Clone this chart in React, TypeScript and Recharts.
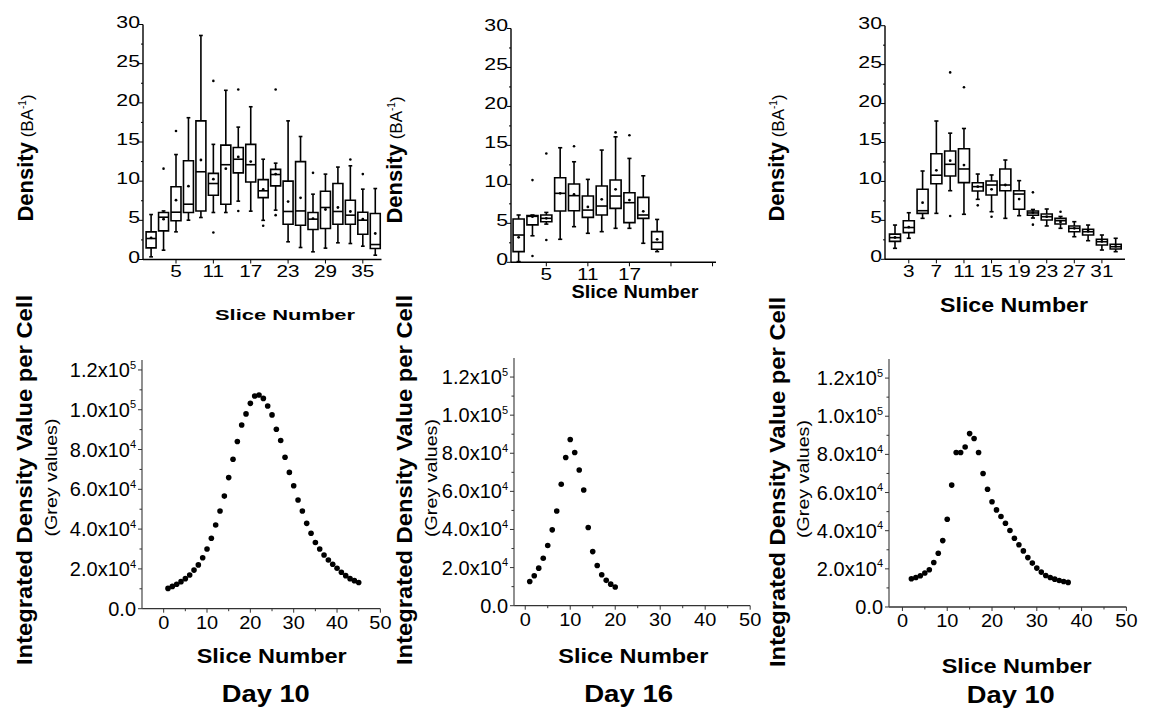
import React from 'react';
import { ScatterChart, Scatter, XAxis, YAxis, ReferenceArea, ReferenceLine } from 'recharts';

const FONT = '"Liberation Sans", Arial, Helvetica, sans-serif';

// ---------------- Top-left box plot (Day 10) ----------------
const TL_SLICE = [1, 3, 5, 7, 9, 11, 13, 15, 17, 19, 21, 23, 25, 27, 29, 31, 33, 35, 37];
const TL_MIN = [0.34, 1.19, 3.53, 5.02, 5.36, 6.0, 6.0, 7.45, 6.17, 5.0, 6.3, 2.26, 1.53, 0.98, 1.45, 2.13, 2.04, 1.7, 0.55];
const TL_Q1 = [1.49, 3.66, 4.94, 6.0, 6.2, 8.2, 7.06, 11.06, 9.9, 7.9, 9.4, 4.5, 4.38, 3.83, 3.96, 4.5, 4.5, 3.23, 1.4];
const TL_MED = [2.68, 5.4, 6.04, 7.06, 11.2, 9.7, 12.1, 12.8, 12.1, 8.77, 10.85, 6.13, 6.2, 5.15, 6.64, 6.13, 5.66, 5.02, 1.91];
const TL_Q3 = [3.53, 6.0, 9.28, 12.6, 17.7, 11.0, 14.6, 14.3, 14.7, 10.2, 11.5, 10.0, 12.5, 6.0, 8.72, 9.7, 7.57, 6.04, 5.87];
const TL_MAX = [5.74, 6.2, 13.4, 18.1, 28.6, 14.7, 21.6, 16.9, 19.5, 12.8, 12.3, 17.7, 15.7, 8.34, 10.9, 11.8, 11.96, 8.98, 9.06];
const TL_MEAN = [2.77, 5.15, 7.57, 9.36, 12.7, 10.26, 11.6, 13.1, 12.5, 8.94, 10.9, 7.4, 7.87, 5.23, 6.38, 6.64, 6.13, 5.15, 3.32];
const TL_OUT_X = [3, 5, 11, 11, 15, 15, 19, 21, 21, 27, 33, 35];
const TL_OUT_Y = [11.6, 16.4, 22.8, 3.45, 21.7, 6.2, 4.3, 21.7, 5.66, 11.06, 12.77, 10.9];
const TL_X_TICKS = [5, 11, 17, 23, 29, 35];
const TL_X_LABELS = ['5', '11', '17', '23', '29', '35'];

// ---------------- Top-middle box plot (Day 16) ----------------
const TM_SLICE = [1, 3, 5, 7, 9, 11, 13, 15, 17, 19, 21];
const TM_MIN = [0.09, 3.4, 4.9, 2.95, 4.57, 3.72, 3.93, 4.36, 4.36, 2.44, 1.37];
const TM_Q1 = [1.37, 4.8, 5.2, 6.58, 6.62, 5.77, 6.07, 6.92, 5.09, 5.64, 1.67];
const TM_MED = [3.5, 5.9, 5.64, 8.85, 8.55, 6.7, 7.22, 8.5, 7.65, 6.07, 2.56];
const TM_Q3 = [5.56, 6.0, 6.07, 10.85, 10.04, 8.5, 9.79, 10.56, 8.93, 8.33, 3.93];
const TM_MAX = [6.07, 6.07, 6.4, 14.7, 12.9, 10.64, 14.4, 16.1, 13.33, 11.1, 5.5];
const TM_MEAN = [3.2, 5.85, 5.64, 8.85, 8.7, 7.1, 8.08, 9.36, 7.99, 6.54, 2.95];
const TM_OUT_X = [3, 3, 5, 5, 9, 15, 17];
const TM_OUT_Y = [10.55, 0.8, 13.97, 2.86, 14.9, 16.67, 16.3];
const TM_X_TICKS = [5, 11, 17, 23, 29];
const TM_X_LABELS = ['5', '11', '17', '', ''];

// ---------------- Top-right box plot (Day 10) ----------------
const TR_SLICE = [1, 3, 5, 7, 9, 11, 13, 15, 17, 19, 21, 23, 25, 27, 29, 31, 33];
const TR_MIN = [1.41, 2.7, 5.26, 5.9, 8.81, 5.78, 7.7, 6.11, 5.26, 5.6, 5.3, 4.28, 3.98, 2.9, 2.39, 1.19, 0.98];
const TR_Q1 = [2.3, 3.42, 5.9, 9.7, 10.7, 9.85, 8.77, 8.26, 8.81, 6.42, 5.65, 5.05, 4.53, 3.54, 3.12, 1.84, 1.32];
const TR_MED = [2.78, 4.08, 6.24, 10.8, 12.2, 11.6, 9.33, 9.54, 9.54, 8.38, 5.95, 5.47, 4.96, 3.98, 3.54, 2.26, 1.62];
const TR_Q3 = [3.23, 4.96, 8.99, 13.55, 13.9, 14.2, 9.84, 10.05, 11.6, 8.81, 6.2, 5.82, 5.26, 4.28, 3.85, 2.57, 1.93];
const TR_MAX = [4.4, 5.98, 11.34, 17.76, 16.2, 16.8, 10.95, 10.83, 12.75, 10.1, 6.4, 6.46, 5.5, 4.83, 4.4, 3.12, 2.7];
const TR_MEAN = [2.8, 4.13, 7.27, 11.42, 12.66, 12.1, 9.33, 8.99, 9.54, 7.74, 6.0, 5.47, 4.8, 3.98, 3.6, 2.3, 1.65];
const TR_OUT_X = [9, 9, 11, 13, 15, 21, 21, 25];
const TR_OUT_Y = [24.0, 5.56, 22.1, 6.93, 5.47, 8.6, 4.45, 6.11];
const TR_X_TICKS = [3, 7, 11, 15, 19, 23, 27, 31];
const TR_X_LABELS = ['3', '7', '11', '15', '19', '23', '27', '31'];

const TOP_Y_MAJOR = [0, 5, 10, 15, 20, 25, 30];
const TOP_Y_LABELS = ['0', '5', '10', '15', '20', '25', '30'];
const TOP_Y_MINOR = [2.5, 7.5, 12.5, 17.5, 22.5, 27.5];

// ---------------- Bottom scatter plots ----------------
const BL_X = [1, 2, 3, 4, 5, 6, 7, 8, 9, 10, 11, 12, 13, 14, 15, 16, 17, 18, 19, 20, 21, 22, 23, 24, 25, 26, 27, 28, 29, 30, 31, 32, 33, 34, 35, 36, 37, 38, 39, 40, 41, 42, 43, 44, 45];
const BL_Y = [10200, 11200, 12300, 13600, 15100, 16900, 19400, 22000, 25600, 30000, 35400, 42100, 49100, 56600, 65900, 75100, 84000, 92300, 97900, 103200, 106900, 107400, 105700, 101900, 97400, 90200, 84500, 76100, 68500, 61800, 54600, 49100, 42900, 37900, 33300, 30000, 27000, 24500, 22300, 20300, 18300, 16600, 15100, 14100, 13200];

const BM_X = [1, 2, 3, 4, 5, 6, 7, 8, 9, 10, 11, 12, 13, 14, 15, 16, 17, 18, 19, 20];
const BM_Y = [12700, 15700, 19700, 24900, 31600, 39800, 49700, 63700, 77800, 87200, 80400, 71200, 60700, 41000, 28400, 21100, 16200, 13300, 11300, 9800];

const BR_X = [2, 3, 4, 5, 6, 7, 8, 9, 10, 11, 12, 13, 14, 15, 16, 17, 18, 19, 20, 21, 22, 23, 24, 25, 26, 27, 28, 29, 30, 31, 32, 33, 34, 35, 36, 37];
const BR_Y = [14800, 15500, 16400, 17800, 19500, 23300, 28200, 34800, 46000, 63900, 81000, 81000, 83900, 90900, 88300, 81000, 70000, 61700, 55200, 50900, 47400, 43900, 40100, 36000, 32600, 29400, 25900, 23000, 20400, 18300, 16500, 15500, 14600, 13900, 13400, 12900];

const BOT_Y_MAJOR = [0, 20000, 40000, 60000, 80000, 100000, 120000];
const BOT_Y_LABELS = ['0.0', '2.0x10', '4.0x10', '6.0x10', '8.0x10', '1.0x10', '1.2x10'];
const BOT_Y_EXP = ['', '4', '4', '4', '4', '5', '5'];
const BOT_Y_MINOR = [10000, 30000, 50000, 70000, 90000, 110000];
const BOT_X_MAJOR = [0, 10, 20, 30, 40, 50];
const BOT_X_LABELS = ['0', '10', '20', '30', '40', '50'];
const BOT_X_MINOR = [5, 15, 25, 35, 45];

const BOX_HALF = 0.8;
const CAP_HALF = 0.3;

type TickStyle = {
  majorLen: number;
  minorLen: number;
  fontSize: number;
  stretch: number;
  gap: number;
  dy: number;
  color: string;
  weight?: string | number;
};

function findIdx(arr: number[], v: number) {
  return arr.findIndex((m) => Math.abs(m - v) < 1e-6);
}

function makeYTick(major: number[], labels: string[], exps: string[] | null, s: TickStyle) {
  return (props: any) => {
    const { x, y, payload } = props;
    const i = findIdx(major, payload.value);
    const isMajor = i >= 0;
    const len = isMajor ? s.majorLen : s.minorLen;
    return (
      <g>
        <line x1={x} x2={x - len} y1={y} y2={y} stroke={s.color} strokeWidth={1} />
        {isMajor && labels[i] !== '' ? (
          <text
            transform={`translate(${x - s.gap},${y + s.dy}) scale(${s.stretch},1)`}
            textAnchor="end"
            fontSize={s.fontSize}
            fontFamily={FONT}
            fontWeight={s.weight || 'normal'}
            fill="#000"
          >
            {labels[i]}
            {exps && exps[i] ? (
              <tspan dy={-s.fontSize * 0.42} fontSize={s.fontSize * 0.55}>
                {exps[i]}
              </tspan>
            ) : null}
          </text>
        ) : null}
      </g>
    );
  };
}

function makeXTick(major: number[], labels: string[], s: TickStyle) {
  return (props: any) => {
    const { x, y, payload } = props;
    const i = findIdx(major, payload.value);
    const isMajor = i >= 0;
    const len = isMajor ? s.majorLen : s.minorLen;
    return (
      <g>
        <line x1={x} x2={x} y1={y} y2={y + len} stroke={s.color} strokeWidth={1} />
        {isMajor && labels[i] !== '' ? (
          <text
            transform={`translate(${x},${y + s.dy}) scale(${s.stretch},1)`}
            textAnchor="middle"
            fontSize={s.fontSize}
            fontFamily={FONT}
            fontWeight={s.weight || 'normal'}
            fill="#000"
          >
            {labels[i]}
          </text>
        ) : null}
      </g>
    );
  };
}

type Rect = { l: number; t: number; r: number; b: number };

function dotShape(r: number) {
  return (props: any) => <circle cx={props.cx} cy={props.cy} r={r} fill="#000" />;
}

function BoxPanel(p: {
  plot: Rect;
  xDomain: [number, number];
  slices: number[];
  lo: number[];
  q1: number[];
  med: number[];
  q3: number[];
  hi: number[];
  mean: number[];
  outX: number[];
  outY: number[];
  xTicks: number[];
  xLabels: string[];
}) {
  const chartLeft = p.plot.l - 70;
  const chartTop = 0;
  const chartW = p.plot.r - chartLeft + 4;
  const chartH = p.plot.b + 35;
  const yTicks = [...TOP_Y_MAJOR, ...TOP_Y_MINOR].sort((a, b) => a - b);
  const yTickStyle: TickStyle = { majorLen: 4, minorLen: 2, fontSize: 17, stretch: 1.25, gap: 3, dy: 3, color: '#000' };
  const xTickStyle: TickStyle = { majorLen: 4, minorLen: 2, fontSize: 17, stretch: 1.22, gap: 0, dy: 17.5, color: '#000' };
  const meanData = p.slices.map((s, i) => ({ x: s, y: p.mean[i] }));
  const outData = p.outX.map((s, i) => ({ x: s, y: p.outY[i] }));
  const els: React.ReactElement[] = [];
  const sw = 1.6;
  p.slices.forEach((s, i) => {
    els.push(
      <ReferenceArea key={`a${i}`} x1={s - BOX_HALF} x2={s + BOX_HALF} y1={p.q1[i]} y2={p.q3[i]} stroke="#000" strokeWidth={sw} fill="none" fillOpacity={0} ifOverflow="visible" />
    );
    els.push(
      <ReferenceLine key={`m${i}`} segment={[{ x: s - BOX_HALF, y: p.med[i] }, { x: s + BOX_HALF, y: p.med[i] }]} stroke="#000" strokeWidth={sw} ifOverflow="visible" />
    );
    els.push(
      <ReferenceLine key={`u${i}`} segment={[{ x: s, y: p.q3[i] }, { x: s, y: p.hi[i] }]} stroke="#000" strokeWidth={sw} ifOverflow="visible" />
    );
    els.push(
      <ReferenceLine key={`d${i}`} segment={[{ x: s, y: p.lo[i] }, { x: s, y: p.q1[i] }]} stroke="#000" strokeWidth={sw} ifOverflow="visible" />
    );
    els.push(
      <ReferenceLine key={`cu${i}`} segment={[{ x: s - CAP_HALF, y: p.hi[i] }, { x: s + CAP_HALF, y: p.hi[i] }]} stroke="#000" strokeWidth={sw} ifOverflow="visible" />
    );
    els.push(
      <ReferenceLine key={`cd${i}`} segment={[{ x: s - CAP_HALF, y: p.lo[i] }, { x: s + CAP_HALF, y: p.lo[i] }]} stroke="#000" strokeWidth={sw} ifOverflow="visible" />
    );
  });
  return (
    <div style={{ position: 'absolute', left: chartLeft, top: chartTop }}>
      <ScatterChart width={chartW} height={chartH} margin={{ top: p.plot.t - chartTop, right: chartW - (p.plot.r - chartLeft), bottom: 0, left: 0 }}>
        <XAxis
          type="number"
          dataKey="x"
          domain={p.xDomain}
          allowDataOverflow
          ticks={p.xTicks}
          interval={0}
          height={chartH - p.plot.b}
          tickSize={0}
          tickMargin={0}
          tickLine={false}
          axisLine={{ stroke: '#000', strokeWidth: 1.4 }}
          tick={makeXTick(p.xTicks, p.xLabels, xTickStyle)}
        />
        <YAxis
          type="number"
          dataKey="y"
          domain={[0, 30]}
          allowDataOverflow
          ticks={yTicks}
          interval={0}
          width={p.plot.l - chartLeft}
          tickSize={0}
          tickMargin={0}
          tickLine={false}
          axisLine={{ stroke: '#000', strokeWidth: 1.4 }}
          tick={makeYTick(TOP_Y_MAJOR, TOP_Y_LABELS, null, yTickStyle)}
        />
        <XAxis xAxisId="top" orientation="top" type="number" domain={p.xDomain} allowDataOverflow height={0} tick={false} tickLine={false} axisLine={{ stroke: '#8a8a8a', strokeWidth: 1.2 }} />
        <YAxis yAxisId="right" orientation="right" type="number" domain={[0, 30]} allowDataOverflow width={0} tick={false} tickLine={false} axisLine={{ stroke: '#8a8a8a', strokeWidth: 1.2 }} />
        {els}
        <Scatter data={meanData} isAnimationActive={false} shape={dotShape(1.4)} />
        <Scatter data={outData} isAnimationActive={false} shape={dotShape(1.3)} />
      </ScatterChart>
    </div>
  );
}

function DotPanel(p: { plot: Rect; xDomain: [number, number]; yMax: number; xs: number[]; ys: number[] }) {
  const chartLeft = p.plot.l - 150;
  const chartTop = p.plot.t - 20;
  const chartW = p.plot.r - chartLeft + 20;
  const chartH = p.plot.b - chartTop + 30;
  const data = p.xs.map((x, i) => ({ x, y: p.ys[i] }));
  const yTicks = [...BOT_Y_MAJOR, ...BOT_Y_MINOR].sort((a, b) => a - b);
  const xTicks = [...BOT_X_MAJOR, ...BOT_X_MINOR].sort((a, b) => a - b);
  const yStyle: TickStyle = { majorLen: 4, minorLen: 2.5, fontSize: 20, stretch: 1, gap: 6, dy: 7, color: '#333' };
  const xStyle: TickStyle = { majorLen: 4, minorLen: 2.5, fontSize: 19, stretch: 1.05, gap: 0, dy: 20, color: '#333' };
  return (
    <div style={{ position: 'absolute', left: chartLeft, top: chartTop }}>
      <ScatterChart width={chartW} height={chartH} margin={{ top: p.plot.t - chartTop, right: chartW - (p.plot.r - chartLeft), bottom: 0, left: 0 }}>
        <XAxis
          type="number"
          dataKey="x"
          domain={p.xDomain}
          allowDataOverflow
          ticks={xTicks}
          interval={0}
          height={chartH - (p.plot.b - chartTop)}
          tickSize={0}
          tickMargin={0}
          tickLine={false}
          axisLine={{ stroke: '#333', strokeWidth: 1.3 }}
          tick={makeXTick(BOT_X_MAJOR, BOT_X_LABELS, xStyle)}
        />
        <YAxis
          type="number"
          dataKey="y"
          domain={[0, p.yMax]}
          allowDataOverflow
          ticks={yTicks}
          interval={0}
          width={p.plot.l - chartLeft}
          tickSize={0}
          tickMargin={0}
          tickLine={false}
          axisLine={{ stroke: '#555', strokeWidth: 1.3 }}
          tick={makeYTick(BOT_Y_MAJOR, BOT_Y_LABELS, BOT_Y_EXP, yStyle)}
        />
        <Scatter data={data} isAnimationActive={false} shape={dotShape(2.8)} />
      </ScatterChart>
    </div>
  );
}

function DensityTitle({ x, y }: { x: number; y: number }) {
  return (
    <text transform={`translate(${x},${y}) rotate(-90)`} textAnchor="middle" fontFamily={FONT} fill="#000">
      <tspan fontWeight="bold" fontSize={22}>Density</tspan>
      <tspan fontSize={17}> (BA</tspan>
      <tspan fontSize={10} dy={-7}>-1</tspan>
      <tspan fontSize={17} dy={7}>)</tspan>
    </text>
  );
}

function VText({ x, y, len, size, bold, children }: { x: number; y: number; len: number; size: number; bold?: boolean; children: React.ReactNode }) {
  return (
    <text
      transform={`translate(${x},${y}) rotate(-90)`}
      textAnchor="middle"
      fontFamily={FONT}
      fontSize={size}
      fontWeight={bold ? 'bold' : 'normal'}
      textLength={len}
      lengthAdjust="spacingAndGlyphs"
      fill="#000"
    >
      {children}
    </text>
  );
}

function HText({ x, y, len, size, bold, children }: { x: number; y: number; len: number; size: number; bold?: boolean; children: React.ReactNode }) {
  return (
    <text
      x={x - len / 2}
      y={y}
      fontFamily={FONT}
      fontSize={size}
      fontWeight={bold ? 'bold' : 'normal'}
      textLength={len}
      lengthAdjust="spacingAndGlyphs"
      fill="#000"
    >
      {children}
    </text>
  );
}

export default function App() {
  return (
    <div style={{ position: 'absolute', left: 0, top: 0, width: 1152, height: 713, background: '#fff', overflow: 'hidden', fontFamily: FONT }}>
      <BoxPanel
        plot={{ l: 143, t: 24.5, r: 381.5, b: 259.5 }}
        xDomain={[-0.3, 38]}
        slices={TL_SLICE}
        lo={TL_MIN}
        q1={TL_Q1}
        med={TL_MED}
        q3={TL_Q3}
        hi={TL_MAX}
        mean={TL_MEAN}
        outX={TL_OUT_X}
        outY={TL_OUT_Y}
        xTicks={TL_X_TICKS}
        xLabels={TL_X_LABELS}
      />
      <BoxPanel
        plot={{ l: 511, t: 28.5, r: 716, b: 262.3 }}
        xDomain={[-0.1, 29.5]}
        slices={TM_SLICE}
        lo={TM_MIN}
        q1={TM_Q1}
        med={TM_MED}
        q3={TM_Q3}
        hi={TM_MAX}
        mean={TM_MEAN}
        outX={TM_OUT_X}
        outY={TM_OUT_Y}
        xTicks={TM_X_TICKS}
        xLabels={TM_X_LABELS}
      />
      <BoxPanel
        plot={{ l: 885, t: 25.7, r: 1125, b: 259.3 }}
        xDomain={[-0.45, 34.35]}
        slices={TR_SLICE}
        lo={TR_MIN}
        q1={TR_Q1}
        med={TR_MED}
        q3={TR_Q3}
        hi={TR_MAX}
        mean={TR_MEAN}
        outX={TR_OUT_X}
        outY={TR_OUT_Y}
        xTicks={TR_X_TICKS}
        xLabels={TR_X_LABELS}
      />
      <DotPanel plot={{ l: 141.6, t: 360, r: 380, b: 608.7 }} xDomain={[-5, 50]} yMax={125000} xs={BL_X} ys={BL_Y} />
      <DotPanel plot={{ l: 513.8, t: 358.3, r: 750, b: 606 }} xDomain={[-2.5, 50]} yMax={130000} xs={BM_X} ys={BM_Y} />
      <DotPanel plot={{ l: 889.3, t: 359.3, r: 1126.7, b: 607.3 }} xDomain={[-3, 50]} yMax={130000} xs={BR_X} ys={BR_Y} />
      <svg width={1152} height={713} style={{ position: 'absolute', left: 0, top: 0, pointerEvents: 'none' }}>
        <DensityTitle x={33} y={158} />
        <DensityTitle x={402} y={160} />
        <DensityTitle x={784} y={158} />
        <HText x={285} y={320} len={140} size={15} bold>Slice Number</HText>
        <HText x={635} y={298} len={127} size={18} bold>Slice Number</HText>
        <HText x={1014} y={311.5} len={148} size={20} bold>Slice Number</HText>
        <VText x={32} y={480} len={370} size={22} bold>Integrated Density Value per Cell</VText>
        <VText x={412} y={480} len={370} size={22} bold>Integrated Density Value per Cell</VText>
        <VText x={785} y={482} len={370} size={22} bold>Integrated Density Value per Cell</VText>
        <VText x={57} y={477.5} len={118} size={16}>(Grey values)</VText>
        <VText x={437} y={478} len={118} size={16}>(Grey values)</VText>
        <VText x={809} y={479} len={118} size={16}>(Grey values)</VText>
        <HText x={271.7} y={663.3} len={150} size={20} bold>Slice Number</HText>
        <HText x={633.3} y={663.3} len={150} size={20} bold>Slice Number</HText>
        <HText x={1016.7} y={672.7} len={150} size={20} bold>Slice Number</HText>
        <HText x={265.8} y={702.3} len={88} size={23} bold>Day 10</HText>
        <HText x={628.7} y={701.7} len={89} size={23} bold>Day 16</HText>
        <HText x={1010.8} y={703.3} len={88} size={23} bold>Day 10</HText>
      </svg>
    </div>
  );
}
